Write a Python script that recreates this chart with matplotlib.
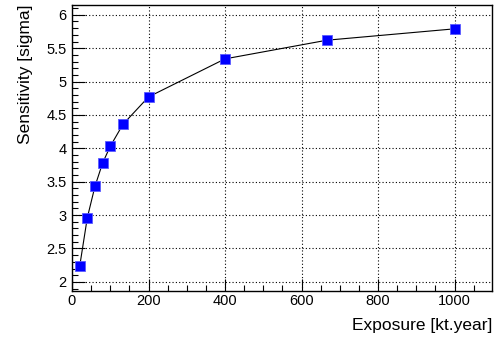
import matplotlib
matplotlib.use('Agg')
import matplotlib.pyplot as plt
from matplotlib.ticker import MultipleLocator
import numpy as np

plt.rcParams['font.family'] = ['Liberation Sans', 'DejaVu Sans']

exposure = [20, 40, 60, 80, 100, 133.3, 200, 400, 666.7, 1000]
sensitivity = [2.23, 2.96, 3.43, 3.78, 4.03, 4.36, 4.77, 5.34, 5.62, 5.79]
xticks = [0, 200, 400, 600, 800, 1000]
yticks = [2, 2.5, 3, 3.5, 4, 4.5, 5, 5.5, 6]

fig = plt.figure(figsize=(5.01, 3.40), dpi=100)
ax = fig.add_axes([72/501, 1 - 291/340, 420/501, 286/340])

ax.plot(exposure, sensitivity, color='black', lw=0.8, zorder=3)
ax.plot(exposure, sensitivity, ls='none', marker='s', ms=7.4,
        mfc='#0000ff', mec='#5a5aff', mew=0.6, zorder=4)

ax.set_xlim(0, 1098)
ax.set_ylim(1.863, 6.147)
ax.set_xticks(xticks)
ax.set_xticklabels([str(t) for t in xticks])
ax.set_yticks(yticks)
ax.set_yticklabels(['%g' % t for t in yticks])
ax.xaxis.set_minor_locator(MultipleLocator(50))
ax.yaxis.set_minor_locator(MultipleLocator(0.1))

ax.tick_params(which='both', direction='in', top=False, right=False,
               labelsize=10.5, width=0.8)
ax.tick_params(which='major', length=9)
ax.tick_params(which='minor', length=4.5)
ax.tick_params(axis='x', pad=2.5)
ax.tick_params(axis='y', pad=4)

ax.grid(True, which='major', color='black', ls=(0, (1, 2)), lw=0.8)
for s in ax.spines.values():
    s.set_linewidth(1.0)

ax.set_xlabel('Exposure [kt.year]', fontsize=12.5, ha='right')
ax.xaxis.set_label_coords(1.0, -0.094)
ax.set_ylabel('Sensitivity [sigma]', fontsize=12.5, ha='right')
ax.yaxis.set_label_coords(-0.093, 1.0)

plt.savefig('out.png', dpi=100)
